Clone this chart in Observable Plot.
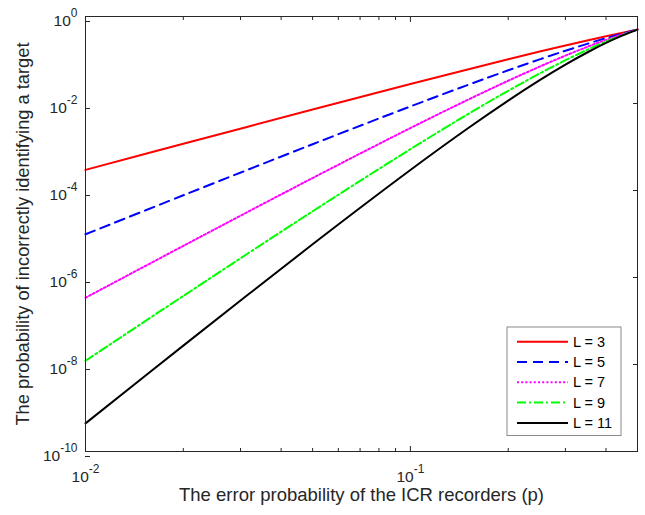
<!DOCTYPE html>
<html><head><meta charset="utf-8">
<script src="https://cdn.jsdelivr.net/npm/d3@7"></script>
<script src="https://cdn.jsdelivr.net/npm/@observablehq/plot@0.6"></script>
<style>
body{margin:0;background:#fff}
#chart{position:relative;width:645px;height:515px}
</style>
</head><body><div id="chart"></div>
<script>
// error probability p (x values)
const p = [0.01, 0.02, 0.05, 0.1, 0.15, 0.2, 0.25, 0.3, 0.35, 0.4, 0.45, 0.5];
// probability of incorrectly identifying a target, per L
const L3  = [2.98e-4, 1.184e-3, 7.25e-3, 0.028, 0.06075, 0.104, 0.1563, 0.216, 0.2818, 0.352, 0.4253, 0.5];
const L5  = [9.85e-6, 7.76e-5, 1.158e-3, 8.56e-3, 0.02661, 0.05792, 0.1035, 0.1631, 0.2352, 0.3174, 0.4069, 0.5];
const L7  = [3.417e-7, 5.336e-6, 1.936e-4, 2.728e-3, 0.0121, 0.03334, 0.07056, 0.126, 0.1998, 0.2898, 0.3917, 0.5];
const L9  = [1.219e-8, 3.77e-7, 3.322e-5, 8.909e-4, 0.005629, 0.01958, 0.04893, 0.09881, 0.1717, 0.2666, 0.3786, 0.5];
const L11 = [4.425e-10, 2.712e-8, 5.801e-6, 2.957e-4, 0.002657, 0.01165, 0.03433, 0.07822, 0.1487, 0.2465, 0.3669, 0.5];

const seriesNames = ["L = 3", "L = 5", "L = 7", "L = 9", "L = 11"];
const seriesValues = [L3, L5, L7, L9, L11];
const seriesColors = ["#ff0000", "#0000ff", "#ff00ff", "#00ff00", "#000000"];
const seriesDash = [null, "10,6", "2,2.2", "9,3,2,3", null];

const xMajorTicks = [0.01, 0.1];
const xMinorTicks = [0.02, 0.03, 0.04, 0.05, 0.06, 0.07, 0.08, 0.09, 0.2, 0.3, 0.4, 0.5];
const yTicks = [1e-10, 1e-8, 1e-6, 1e-4, 1e-2, 1];

const xLabel = "The error probability of the ICR recorders (p)";
const yLabel = "The probability of incorrectly identifying a target";

const rows = [];
seriesNames.forEach((name, i) => p.forEach((x, j) => rows.push({series: name, p: x, v: seriesValues[i][j]})));

const ink = "#262626";
const font = "'Liberation Sans', Arial, sans-serif";
const expFmt = d => "10^" + Math.round(Math.log10(d));
const blank = () => "";

const marks = [];
seriesNames.forEach((name, i) => {
  marks.push(Plot.line(rows.filter(r => r.series === name), {
    x: "p", y: "v", stroke: seriesColors[i], strokeWidth: 2,
    strokeDasharray: seriesDash[i] || undefined, curve: "catmull-rom"
  }));
});
marks.push(
  Plot.frame({stroke: ink, strokeWidth: 1}),
  Plot.axisX(xMajorTicks, {anchor: "bottom", tickSize: -5, tickPadding: 24, tickFormat: expFmt, label: null, fill: ink, stroke: ink}),
  Plot.axisX(xMinorTicks, {anchor: "bottom", tickSize: -3, tickFormat: blank, label: null, stroke: ink}),
  Plot.axisX(xMajorTicks, {anchor: "top", tickSize: -5, tickFormat: blank, label: null, stroke: ink}),
  Plot.axisX(xMinorTicks, {anchor: "top", tickSize: -3, tickFormat: blank, label: null, stroke: ink}),
  Plot.axisY(yTicks, {anchor: "left", tickSize: -5, tickPadding: 13, dy: 5, tickFormat: expFmt, label: null, fill: ink, stroke: ink}),
  Plot.axisY(yTicks, {anchor: "right", tickSize: -5, tickFormat: blank, label: null, stroke: ink}),
  Plot.text([xLabel], {frameAnchor: "bottom", dy: 49, fontSize: 18.5, fill: ink}),
  Plot.text([yLabel], {frameAnchor: "left", textAnchor: "middle", rotate: -90, dx: -62.5, fontSize: 18.3, fill: ink})
);

const chart = Plot.plot({
  width: 645, height: 515,
  marginLeft: 85, marginRight: 8, marginTop: 16, marginBottom: 64,
  style: {fontFamily: font, color: ink, background: "#fff"},
  x: {type: "log", domain: [0.01, 0.5], label: null},
  y: {type: "log", domain: [1e-10, 1], label: null},
  marks
});
document.getElementById("chart").appendChild(chart);

// superscript exponents in tick labels
const svg = d3.select(chart);
svg.selectAll('g[aria-label="x-axis tick label"] text, g[aria-label="y-axis tick label"] text').each(function() {
  const t = this.textContent;
  if (!t.includes("^")) return;
  const [base, ex] = t.split("^");
  this.textContent = base;
  d3.select(this).attr("font-size", 15.5);
  d3.select(this).append("tspan").attr("dy", -9).attr("font-size", 12).text(ex);
});

// legend
const lx = 507, ly = 327, lw = 114, rowH = 20.3;
const lg = svg.append("g").attr("font-family", font).attr("text-anchor", "start");
lg.append("rect").attr("x", lx).attr("y", ly).attr("width", lw).attr("height", rowH * seriesNames.length + 7)
  .attr("fill", "#fff").attr("stroke", "#8a8a8a").attr("stroke-width", 1);
seriesNames.forEach((name, i) => {
  const cy = ly + 14.7 + i * rowH;
  lg.append("line").attr("x1", lx + 10).attr("x2", lx + 61).attr("y1", cy).attr("y2", cy)
    .attr("stroke", seriesColors[i]).attr("stroke-width", 2)
    .attr("stroke-dasharray", seriesDash[i] || null);
  lg.append("text").attr("x", lx + 66).attr("y", cy).attr("dy", "0.35em").attr("text-anchor", "start")
    .attr("font-size", 14.5).attr("fill", "#000").text(name);
});
</script>
</body></html>
